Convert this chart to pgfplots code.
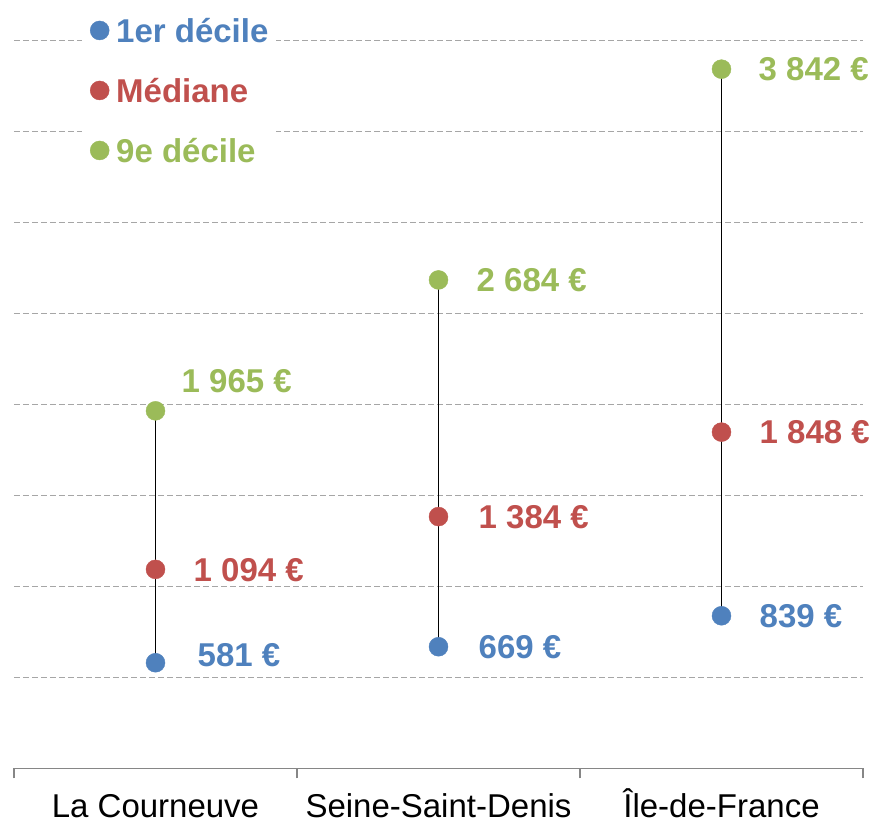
\documentclass[border=0pt]{standalone}
\usepackage{fontspec}
\setmainfont{Liberation Sans}
\usepackage{pgfplots}
\usepackage{pgfplotstable}
\pgfplotsset{compat=1.18}
\definecolor{cBlue}{HTML}{4F81BD}
\definecolor{cRed}{HTML}{C0504D}
\definecolor{cGreen}{HTML}{9BBB59}
\definecolor{axgray}{HTML}{868686}
\definecolor{gridgray}{HTML}{A6A6A6}

\pgfplotstableread[col sep=comma]{
x,y,dx,dy,label
0,581,42,8,581 €
1,669,40,0,669 €
2,839,38,0,839 €
}\tabBlue
\pgfplotstableread[col sep=comma]{
x,y,dx,dy,label
0,1094,38,0,1 094 €
1,1384,40,0,1 384 €
2,1848,38,0,1 848 €
}\tabRed
\pgfplotstableread[col sep=comma]{
x,y,dx,dy,label
0,1965,26,30,1 965 €
1,2684,38,0,2 684 €
2,3842,37,0,3 842 €
}\tabGreen

\newcommand{\bigfont}{\fontsize{33}{39}\selectfont}

\begin{document}
\begin{tikzpicture}[font=\bigfont]
\begin{axis}[
  scale only axis, width=849pt, height=768.5pt,
  xmin=-0.5, xmax=2.5, ymin=0, ymax=4222,
  clip=false,
  axis x line*=bottom, axis y line*=left,
  x axis line style={axgray, line width=1.8pt},
  y axis line style={draw=none},
  xtick={0,1,2},
  xticklabels={La Courneuve,Seine-Saint-Denis,Île-de-France},
  minor xtick={-0.5,0.5,1.5,2.5},
  major tick length=0pt, minor tick length=10pt, tick align=outside,
  tick style={axgray, line width=1.5pt},
  xticklabel style={font=\bigfont, anchor=north, inner sep=0pt, text height=23.5pt, text depth=0pt, yshift=-25pt},
  ytick={500,1000,...,4000}, yticklabels={}, ymajorgrids,
  ytick style={draw=none},
  major grid style={gridgray, dash pattern=on 6pt off 3pt, line width=1pt},
  legend image code/.code={\draw[#1] plot coordinates {(0pt,0pt)};},
  legend style={at={(0,1)}, anchor=north west, xshift=68pt, yshift=-13.5pt,
    draw=none, fill=white, inner xsep=8pt, inner ysep=5pt,
    row sep=36.5pt, column sep=7pt, font=\bigfont\bfseries,
    nodes={inner sep=0pt, text height=23.5pt, text depth=0pt},
    cells={anchor=west}},
  every node near coord/.append style={anchor=west, font=\bigfont\bfseries, inner sep=0pt, text height=23.5pt, text depth=0pt},
]
\addplot[black, line width=1.3pt, forget plot] coordinates {(0,581) (0,1965)};
\addplot[black, line width=1.3pt, forget plot] coordinates {(1,669) (1,2684)};
\addplot[black, line width=1.3pt, forget plot] coordinates {(2,839) (2,3842)};

\addplot[only marks, mark=*, mark size=9.5pt, color=cBlue,
  point meta=explicit symbolic,
  visualization depends on={\thisrow{dx}\as\labdx},
  visualization depends on={\thisrow{dy}\as\labdy},
  nodes near coords={\pgfplotspointmeta},
  nodes near coords style={xshift=\labdx pt, yshift=\labdy pt, text=cBlue}]
  table[x=x, y=y, meta=label]{\tabBlue};
\addlegendentry{\textcolor{cBlue}{1er décile}}

\addplot[only marks, mark=*, mark size=9.5pt, color=cRed,
  point meta=explicit symbolic,
  visualization depends on={\thisrow{dx}\as\labdx},
  visualization depends on={\thisrow{dy}\as\labdy},
  nodes near coords={\pgfplotspointmeta},
  nodes near coords style={xshift=\labdx pt, yshift=\labdy pt, text=cRed}]
  table[x=x, y=y, meta=label]{\tabRed};
\addlegendentry{\textcolor{cRed}{Médiane}}

\addplot[only marks, mark=*, mark size=9.5pt, color=cGreen,
  point meta=explicit symbolic,
  visualization depends on={\thisrow{dx}\as\labdx},
  visualization depends on={\thisrow{dy}\as\labdy},
  nodes near coords={\pgfplotspointmeta},
  nodes near coords style={xshift=\labdx pt, yshift=\labdy pt, text=cGreen}]
  table[x=x, y=y, meta=label]{\tabGreen};
\addlegendentry{\textcolor{cGreen}{9e décile}}

\path (rel axis cs:0,0) ++(-14pt,-56pt) rectangle ++(881pt,823pt);
\end{axis}
\end{tikzpicture}
\end{document}
